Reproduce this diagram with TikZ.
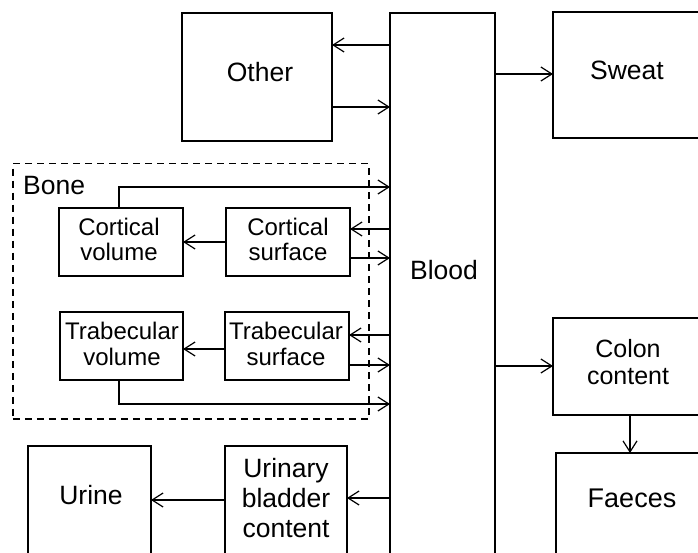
\documentclass[tikz,border=0pt]{standalone}
\usepackage{fontspec}
\setmainfont{Liberation Sans}
\usetikzlibrary{arrows.meta}
\begin{document}
\begin{tikzpicture}[x=1pt,y=-1pt,
  box/.style={draw, line width=1.2pt, inner sep=0pt, outer sep=0pt, anchor=north west},
  big/.style={font=\fontsize{26.5}{30}\selectfont, align=center, inner sep=0pt},
  small/.style={font=\fontsize{24}{25.5}\selectfont, align=center, inner sep=0pt},
  arr/.style={line width=1.2pt, -{Straight Barb[length=11pt,width=14pt,line width=1.2pt]}},
]
\useasboundingbox (0,0) rectangle (698,553);
\fill[white] (0,0) rectangle (698,553);
\clip (0,0) rectangle (698,553);

% compartments
\node[box, minimum width=150pt, minimum height=128pt] (other) at (182,13) {};
\node[big] (othertxt) at (260,72) {Other};
\node[box, minimum width=105pt, minimum height=600pt] (blood) at (390,13) {};
\node[big] (bloodtxt) at (444,270) {Blood};
\node[box, minimum width=148pt, minimum height=126pt] (sweat) at (553,12) {};
\node[big] (sweattxt) at (627,70) {Sweat};
\node[box, minimum width=148pt, minimum height=97pt] (colon) at (553,318) {};
\node[big, font=\fontsize{25}{27}\selectfont] (colontxt) at (628,362) {Colon\\content};
\node[box, minimum width=152pt, minimum height=130pt] (faeces) at (556,453) {};
\node[big, font=\fontsize{27}{30}\selectfont] (faecestxt) at (632,498) {Faeces};
\node[box, minimum width=123pt, minimum height=130pt] (urine) at (28,446) {};
\node[big] (urinetxt) at (91,495) {Urine};
\node[box, minimum width=122pt, minimum height=130pt] (bladder) at (225,446) {};
\node[big] (bladdertxt) at (286,498) {Urinary\\bladder\\content};

% bone group
\node[draw, line width=1.5pt, dash pattern=on 7pt off 5pt, anchor=north west, inner sep=0pt,
      minimum width=356pt, minimum height=255pt] (bone) at (12,163) {};
\node[big, anchor=west] (bonetxt) at (23,186) {Bone};
\node[box, minimum width=124pt, minimum height=68pt] (cv) at (59,208) {};
\node[small] (cvtxt) at (119,239.5) {Cortical\\volume};
\node[box, minimum width=124pt, minimum height=68pt] (cs) at (226,208) {};
\node[small] (cstxt) at (288,239.5) {Cortical\\surface};
\node[box, minimum width=123pt, minimum height=68pt] (tv) at (60,312) {};
\node[small] (tvtxt) at (122,344) {Trabecular\\volume};
\node[box, minimum width=124pt, minimum height=68pt] (ts) at (225,312) {};
\node[small] (tstxt) at (286,344) {Trabecular\\surface};

% flows
\draw[arr] (blood.west |- 0,45) -- (other.east |- 0,45);
\draw[arr] (other.east |- 0,107) -- (blood.west |- 0,107);
\draw[arr] (blood.east |- 0,74) -- (sweat.west |- 0,74);
\draw[arr] (blood.east |- 0,366) -- (colon.west |- 0,366);
\draw[arr] (colon.south -| 630,0) -- (faeces.north -| 630,0);

\draw[arr] (cv.north -| 119,0) |- (blood.west |- 0,187);
\draw[arr] (blood.west |- 0,229) -- (cs.east |- 0,229);
\draw[arr] (cs.east |- 0,258) -- (blood.west |- 0,258);
\draw[arr] (cs.west) -- (cv.east);
\draw[arr] (blood.west |- 0,335) -- (ts.east |- 0,335);
\draw[arr] (ts.east |- 0,365) -- (blood.west |- 0,365);
\draw[arr] (ts.west |- 0,349) -- (tv.east |- 0,349);
\draw[arr] (tv.south -| 119,0) |- (blood.west |- 0,404);

\draw[arr] (blood.west |- 0,498) -- (bladder.east |- 0,498);
\draw[arr] (bladder.west |- 0,500) -- (urine.east |- 0,500);
\end{tikzpicture}
\end{document}
